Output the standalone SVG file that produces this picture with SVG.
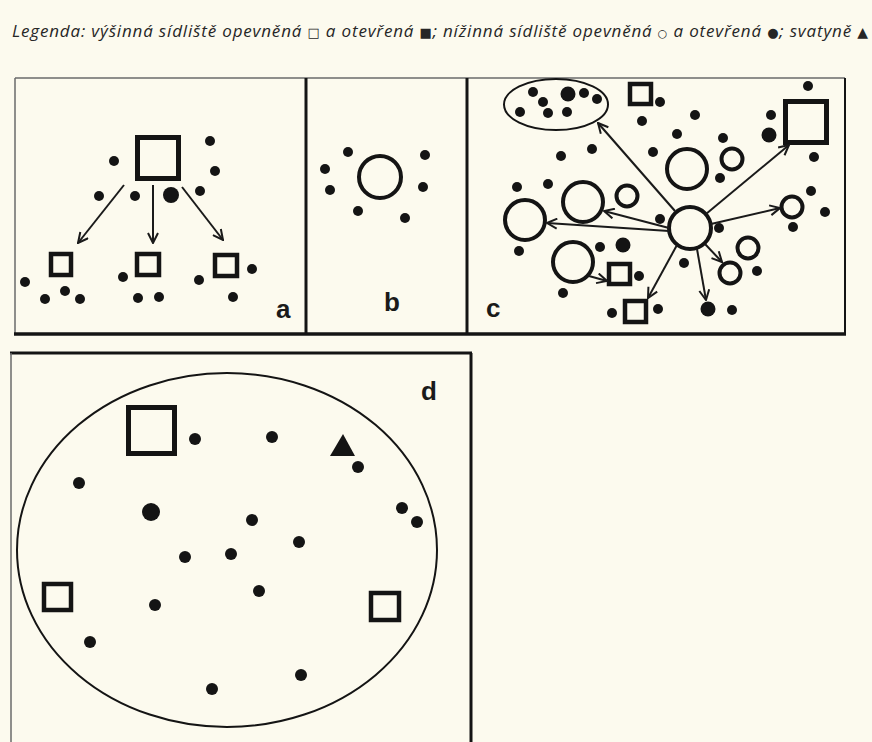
<svg xmlns="http://www.w3.org/2000/svg" width="872" height="742" viewBox="0 0 872 742">
<style>
.bg{fill:#fcfaee}
.legend{font-family:"Open Sans","Noto Sans","DejaVu Sans",sans-serif;font-style:italic;font-size:17px;fill:#262626}
.sym{font-family:"DejaVu Sans",sans-serif;font-style:normal}
.lbl{font-family:"Liberation Sans",Arial,sans-serif;font-weight:bold;font-size:26px;fill:#1a1a1a}
.dot{fill:#141414}
.sq{fill:none;stroke:#141414;stroke-width:4.5}
.ring{fill:none;stroke:#141414;stroke-width:4}
.conn{fill:none;stroke:#1a1a1a;stroke-width:2;marker-end:url(#arr)}
.frame-thin{stroke:#6a6a6a;stroke-width:1.5;fill:none}
.frame{stroke:#141414;stroke-width:3;fill:none}
</style>
<defs>
<marker id="arr" viewBox="0 0 12 12" refX="11" refY="6" markerWidth="12" markerHeight="12" markerUnits="userSpaceOnUse" orient="auto">
<path d="M1,1 L11,6 L1,11" fill="none" stroke="#1a1a1a" stroke-width="2"/>
</marker>
</defs>
<rect class="bg" x="0" y="0" width="872" height="742"/>
<text id="legend" class="legend" x="12" y="37" textLength="856" lengthAdjust="spacing">Legenda: výšinná sídliště opevněná <tspan class="sym" style="font-size:13px">□</tspan> a otevřená <tspan class="sym" style="font-size:13px">■</tspan>; nížinná sídliště opevněná <tspan class="sym" style="font-size:11px">○</tspan> a otevřená <tspan class="sym" style="font-size:13px">●</tspan>; svatyně <tspan class="sym" style="font-size:14px">▲</tspan></text>

<g id="frames">
<line class="frame-thin" x1="15" y1="78" x2="845" y2="78"/>
<line class="frame-thin" x1="15" y1="78" x2="15" y2="334"/>
<line class="frame" x1="306" y1="78" x2="306" y2="334"/>
<line class="frame" x1="467" y1="78" x2="467" y2="334"/>
<line class="frame" x1="845" y1="78" x2="845" y2="334" style="stroke-width:2"/>
<line class="frame" x1="14" y1="334" x2="846" y2="334" style="stroke-width:3.5"/>
<line class="frame" x1="10" y1="353" x2="472" y2="353"/>
<line class="frame-thin" x1="11" y1="353" x2="11" y2="742"/>
<line class="frame" x1="471" y1="353" x2="471" y2="742"/>
</g>

<g id="panel-a">
<rect id="a-big" class="sq" x="137.5" y="137.5" width="41" height="41" style="stroke-width:5"/>
<rect id="a-sq1" class="sq" x="51" y="254" width="20" height="21"/>
<rect id="a-sq2" class="sq" x="137" y="254" width="22" height="21"/>
<rect id="a-sq3" class="sq" x="215" y="255" width="22" height="21"/>
<circle class="dot" cx="210" cy="141" r="5"/>
<circle class="dot" cx="114" cy="161" r="5"/>
<circle class="dot" cx="215" cy="171" r="5"/>
<circle class="dot" cx="99" cy="196" r="5"/>
<circle class="dot" cx="135" cy="196" r="5"/>
<circle class="dot" cx="171" cy="195" r="8"/>
<circle class="dot" cx="200" cy="191" r="5"/>
<circle class="dot" cx="25" cy="282" r="5"/>
<circle class="dot" cx="45" cy="299" r="5"/>
<circle class="dot" cx="65" cy="291" r="5"/>
<circle class="dot" cx="80" cy="299" r="5"/>
<circle class="dot" cx="123" cy="277" r="5"/>
<circle class="dot" cx="138" cy="298" r="5"/>
<circle class="dot" cx="159" cy="297" r="5"/>
<circle class="dot" cx="199" cy="280" r="5"/>
<circle class="dot" cx="252" cy="269" r="5"/>
<circle class="dot" cx="233" cy="297" r="5"/>
<text class="lbl" x="276" y="318">a</text>
</g>

<g id="panel-b">
<circle id="b-ring" class="ring" cx="380" cy="177" r="21"/>
<circle class="dot" cx="348" cy="152" r="5"/>
<circle class="dot" cx="325" cy="169" r="5"/>
<circle class="dot" cx="330" cy="190" r="5"/>
<circle class="dot" cx="358" cy="211" r="5"/>
<circle class="dot" cx="405" cy="218" r="5"/>
<circle class="dot" cx="425" cy="155" r="5"/>
<circle class="dot" cx="423" cy="187" r="5"/>
<text class="lbl" x="384" y="311">b</text>
</g>

<g id="panel-c">
<g id="c-cluster">
<ellipse cx="556" cy="104.5" rx="52" ry="25.5" fill="none" stroke="#141414" stroke-width="2"/>
<circle class="dot" cx="533" cy="92" r="5"/>
<circle class="dot" cx="543" cy="102" r="5"/>
<circle class="dot" cx="520" cy="112" r="5"/>
<circle class="dot" cx="548" cy="113" r="5"/>
<circle class="dot" cx="568" cy="94" r="7.5"/>
<circle class="dot" cx="584" cy="93" r="5"/>
<circle class="dot" cx="597" cy="99" r="5"/>
<circle class="dot" cx="567" cy="112" r="5"/>
</g>
<rect id="c-sq-top" class="sq" x="630" y="84" width="21" height="20"/>
<rect id="c-sq-big" class="sq" x="785.5" y="101.5" width="41" height="41" style="stroke-width:5"/>
<rect id="c-sq-mid" class="sq" x="609" y="264" width="21" height="20"/>
<rect id="c-sq-bot" class="sq" x="625" y="301" width="21" height="21"/>
<circle id="c-center" class="ring" cx="690" cy="228" r="21"/>
<circle id="c-ring1" class="ring" cx="525" cy="220" r="20"/>
<circle id="c-ring2" class="ring" cx="583" cy="202" r="20"/>
<circle id="c-ring3" class="ring" cx="627" cy="196" r="10.5"/>
<circle id="c-ring4" class="ring" cx="573" cy="262" r="20"/>
<circle id="c-ring5" class="ring" cx="687" cy="169" r="20"/>
<circle id="c-ring6" class="ring" cx="732" cy="159" r="10.5"/>
<circle id="c-ring7" class="ring" cx="792" cy="207" r="10.5"/>
<circle id="c-ring8" class="ring" cx="748" cy="248" r="10.5"/>
<circle id="c-ring9" class="ring" cx="730" cy="273" r="10.5"/>
<circle class="dot" cx="660" cy="102" r="5"/>
<circle class="dot" cx="642" cy="121" r="5"/>
<circle class="dot" cx="561" cy="156" r="5"/>
<circle class="dot" cx="592" cy="149" r="5"/>
<circle class="dot" cx="653" cy="152" r="5"/>
<circle class="dot" cx="517" cy="187" r="5"/>
<circle class="dot" cx="548" cy="184" r="5"/>
<circle class="dot" cx="677" cy="134" r="5"/>
<circle class="dot" cx="695" cy="115" r="5"/>
<circle class="dot" cx="723" cy="138" r="5"/>
<circle class="dot" cx="720" cy="178" r="5"/>
<circle class="dot" cx="808" cy="86" r="5"/>
<circle class="dot" cx="771" cy="115" r="5"/>
<circle class="dot" cx="769" cy="135" r="7.5"/>
<circle class="dot" cx="814" cy="157" r="5"/>
<circle class="dot" cx="811" cy="191" r="5"/>
<circle class="dot" cx="825" cy="212" r="5"/>
<circle class="dot" cx="793" cy="227" r="5"/>
<circle class="dot" cx="719" cy="228" r="5"/>
<circle class="dot" cx="660" cy="219" r="5"/>
<circle class="dot" cx="684" cy="263" r="5"/>
<circle class="dot" cx="757" cy="271" r="5"/>
<circle class="dot" cx="708" cy="309" r="7.5"/>
<circle class="dot" cx="732" cy="310" r="5"/>
<circle class="dot" cx="519" cy="251" r="5"/>
<circle class="dot" cx="600" cy="247" r="5"/>
<circle class="dot" cx="623" cy="245" r="7.5"/>
<circle class="dot" cx="639" cy="276" r="5"/>
<circle class="dot" cx="563" cy="293" r="5"/>
<circle class="dot" cx="612" cy="313" r="5"/>
<circle class="dot" cx="658" cy="309" r="5"/>
<text class="lbl" x="486" y="317">c</text>
</g>

<g id="panel-d">
<ellipse id="d-region" cx="227" cy="550" rx="210" ry="177" fill="none" stroke="#141414" stroke-width="2"/>
<rect id="d-sq-big" class="sq" x="128.5" y="407.5" width="46" height="46" style="stroke-width:5"/>
<rect id="d-sq-left" class="sq" x="44" y="584" width="27" height="26"/>
<rect id="d-sq-right" class="sq" x="371" y="593" width="28" height="27"/>
<polygon id="d-shrine" points="330,456 355,456 343,434" fill="#141414"/>
<circle class="dot" cx="195" cy="439" r="6"/>
<circle class="dot" cx="272" cy="437" r="6"/>
<circle class="dot" cx="358" cy="467" r="6"/>
<circle class="dot" cx="79" cy="483" r="6"/>
<circle class="dot" cx="151" cy="512" r="9"/>
<circle class="dot" cx="252" cy="520" r="6"/>
<circle class="dot" cx="402" cy="508" r="6"/>
<circle class="dot" cx="417" cy="522" r="6"/>
<circle class="dot" cx="299" cy="542" r="6"/>
<circle class="dot" cx="185" cy="557" r="6"/>
<circle class="dot" cx="231" cy="554" r="6"/>
<circle class="dot" cx="259" cy="591" r="6"/>
<circle class="dot" cx="155" cy="605" r="6"/>
<circle class="dot" cx="90" cy="642" r="6"/>
<circle class="dot" cx="301" cy="675" r="6"/>
<circle class="dot" cx="212" cy="689" r="6"/>
<text class="lbl" x="421" y="400">d</text>
</g>

<g id="connectors">
<line class="conn" x1="124" y1="185" x2="78" y2="243"/>
<line class="conn" x1="153" y1="185" x2="153" y2="243"/>
<line class="conn" x1="182" y1="187" x2="223" y2="240"/>
<line class="conn" x1="675" y1="211" x2="598" y2="123"/>
<line class="conn" x1="706" y1="214" x2="789" y2="145"/>
<line class="conn" x1="711" y1="224" x2="780" y2="208"/>
<line class="conn" x1="705" y1="244" x2="722" y2="262"/>
<line class="conn" x1="697" y1="249" x2="706" y2="300"/>
<line class="conn" x1="677" y1="245" x2="648" y2="298"/>
<line class="conn" x1="669" y1="231" x2="547" y2="223"/>
<line class="conn" x1="669" y1="228" x2="604" y2="211"/>
<line class="conn" x1="589" y1="276" x2="607" y2="281"/>
</g>
</svg>
